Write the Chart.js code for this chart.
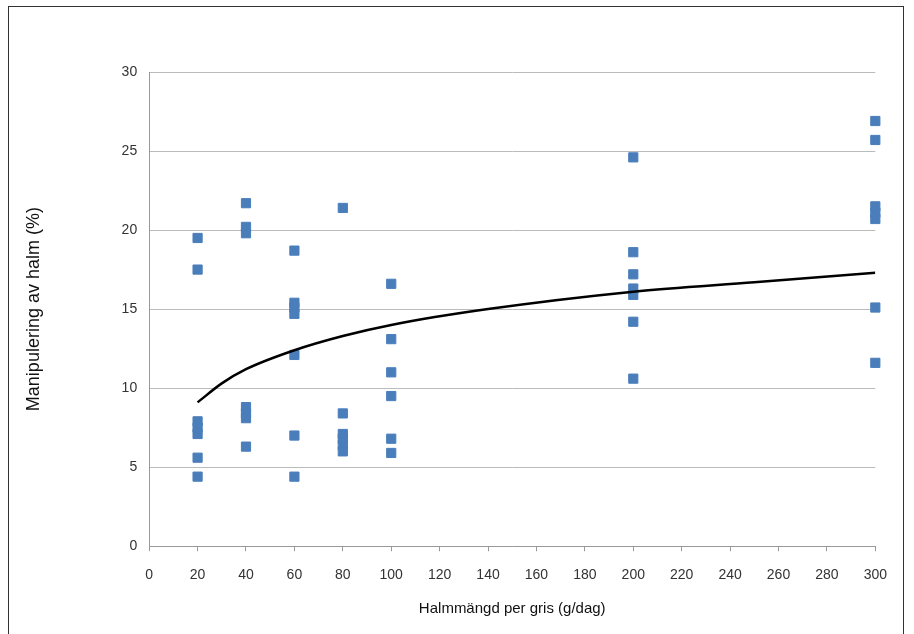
<!DOCTYPE html>
<html>
<head>
<meta charset="utf-8">
<script src="https://cdn.jsdelivr.net/npm/chart.js@4"></script>
<style>
  body { margin: 0; background: #fff; }
  #wrap { position: absolute; left: 8px; top: 6px; width: 896px; height: 640px; border: 1px solid #333; border-bottom: none; box-sizing: border-box; }
  canvas { display: block; }
</style>
</head>
<body>
<div id="wrap"><canvas id="c" width="894" height="628"></canvas></div>
<script>
// Observations (x = straw amount, y = manipulation %)
const pointX = [20,20,20,20,20,20,20, 40,40,40,40,40,40,40, 60,60,60,60,60,60,60,
  80,80,80,80,80,80, 100,100,100,100,100,100, 200,200,200,200,200,200,200, 300,300,300,300,300,300,300];
const pointY = [19.5,17.5,7.9,7.5,7.1,5.6,4.4, 21.7,20.2,19.8,8.8,8.4,8.1,6.3, 18.7,15.4,15.1,14.7,12.1,7.0,4.4,
  21.4,8.4,7.1,6.8,6.4,6.0, 16.6,13.1,11.0,9.5,6.8,5.9, 24.6,18.6,17.2,16.3,15.9,14.2,10.6, 26.9,25.7,21.5,21.1,20.7,15.1,11.6];

// Trend line
const trendX = [20, 30, 40, 60, 80, 100, 140, 200, 250, 300];
const trendY = [9.1, 10.3, 11.2, 12.4, 13.3, 14.0, 15.0, 16.1, 16.7, 17.3];

const xTicks = [0,20,40,60,80,100,120,140,160,180,200,220,240,260,280,300];

new Chart(document.getElementById('c'), {
  type: 'scatter',
  data: {
    datasets: [{
      data: pointX.map((x, i) => ({ x: x, y: pointY[i] })),
      pointStyle: 'rect',
      pointRadius: 6.5,
      backgroundColor: '#4a7ebb',
      borderColor: '#4a7ebb',
      clip: false,
      order: 2
    }, {
      type: 'line',
      data: trendX.map((x, i) => ({ x: x, y: trendY[i] })),
      borderColor: '#000',
      borderWidth: 2.5,
      pointRadius: 0,
      cubicInterpolationMode: 'monotone',
      fill: false,
      order: 1
    }]
  },
  options: {
    responsive: false,
    animation: false,
    layout: { padding: { left: 10, right: 27, top: 65, bottom: 17 } },
    plugins: { legend: { display: false }, tooltip: { enabled: false } },
    scales: {
      x: {
        type: 'linear', min: 0, max: 300,
        afterBuildTicks: a => { a.ticks = xTicks.map(v => ({ value: v })); },
        grid: { drawOnChartArea: false, tickLength: 5, color: '#999' },
        border: { color: '#999' },
        ticks: { color: '#333', font: { family: 'Liberation Sans', size: 14 }, autoSkip: false, maxRotation: 0, padding: 16 },
        title: { display: true, text: 'Halmmängd per gris (g/dag)', color: '#111', font: { family: 'Liberation Sans', size: 15 }, padding: { top: 0, bottom: 0 } }
      },
      y: {
        min: 0, max: 30,
        ticks: { stepSize: 5, color: '#333', font: { family: 'Liberation Sans', size: 14 }, padding: 12 },
        grid: { color: '#bbb', drawTicks: false },
        border: { color: '#999' },
        title: { display: true, text: 'Manipulering av halm (%)', color: '#111', font: { family: 'Liberation Sans', size: 18 }, padding: { top: 4, bottom: 65 } }
      }
    }
  }
});
</script>
</body>
</html>
